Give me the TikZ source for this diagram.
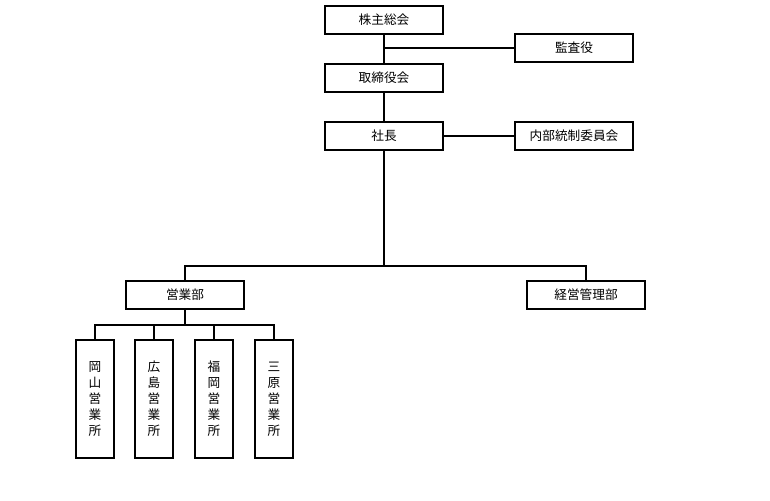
\documentclass[tikz,border=0pt]{standalone}
\usepackage{fontspec}
\setmainfont{Noto Sans CJK JP}
\usetikzlibrary{positioning}
\begin{document}
\begin{tikzpicture}[x=0.75pt,y=-0.75pt,
        box/.style={draw,thick,minimum width=88.5pt,minimum height=21pt,inner sep=0pt,font=\fontsize{9.5}{11}\selectfont},
        tallbox/.style={draw,thick,minimum width=28.5pt,minimum height=88.5pt,inner sep=0pt,align=center,font=\fontsize{9.5}{12}\selectfont}]
        \useasboundingbox (0,0) rectangle (770,500);
        \node [box] (kabu) at (384,20) {株主総会};
        \node [box] (kansa) at (574,48) {監査役};
        \node [box] (tori) at (384,78) {取締役会};
        \node [box] (shacho) at (384,136) {社長};
        \node [box] (naibu) at (574,136) {内部統制委員会};
        \node [box] (eigyo) at (185,295) {営業部};
        \node [box] (keiei) at (586,295) {経営管理部};
        \node [tallbox] (okayama) at (95,399) {岡\\山\\営\\業\\所};
        \node [tallbox] (hiroshima) at (154,399) {広\\島\\営\\業\\所};
        \node [tallbox] (fukuoka) at (214,399) {福\\岡\\営\\業\\所};
        \node [tallbox] (mihara) at (274,399) {三\\原\\営\\業\\所};

        \coordinate (split) at (384,266);
        \coordinate (bus) at (185,325);

        \draw [thick] (kabu) -- (tori);
        \draw [thick] (kansa.west) -- (kansa.west -| kabu.south);
        \draw [thick] (tori) -- (shacho);
        \draw [thick] (shacho) -- (naibu);
        \draw [thick] (shacho) -- (split);
        \draw [thick] (eigyo) |- (split) -| (keiei);
        \draw [thick] (eigyo) -- (bus);
        \draw [thick] (okayama) |- (bus) -| (mihara);
        \draw [thick] (hiroshima) -- (hiroshima |- bus);
        \draw [thick] (fukuoka) -- (fukuoka |- bus);
\end{tikzpicture}
\end{document}
